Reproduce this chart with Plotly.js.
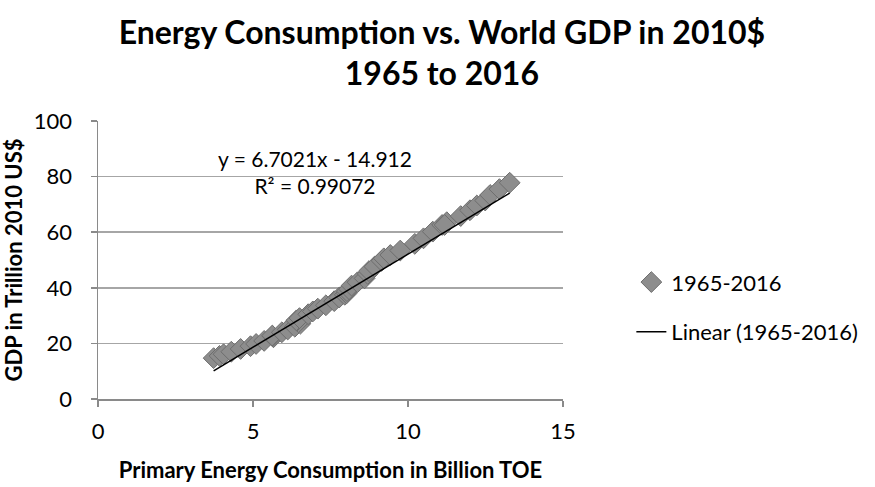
<!DOCTYPE html>
<html>
<head>
<meta charset="utf-8">
<script src="https://cdn.plot.ly/plotly-3.0.1.min.js"></script>
<style>html,body{margin:0;padding:0;background:#fff;}#chart{width:875px;height:487px;}</style>
</head>
<body>
<div id="chart"></div>
<script>
// Years 1965..2016
const years = [1965,1966,1967,1968,1969,1970,1971,1972,1973,1974,1975,1976,1977,1978,1979,1980,1981,1982,1983,1984,1985,1986,1987,1988,1989,1990,1991,1992,1993,1994,1995,1996,1997,1998,1999,2000,2001,2002,2003,2004,2005,2006,2007,2008,2009,2010,2011,2012,2013,2014,2015,2016];
// Primary energy consumption, billion TOE
const energy = [3.73,3.92,4.05,4.30,4.60,4.92,5.10,5.36,5.66,5.64,5.62,5.93,6.12,6.35,6.53,6.47,6.42,6.40,6.50,6.78,6.93,7.09,7.35,7.62,7.78,7.96,8.02,8.03,8.10,8.18,8.37,8.60,8.70,8.74,8.92,9.15,9.22,9.43,9.75,10.22,10.50,10.80,11.10,11.25,11.18,11.70,12.00,12.22,12.49,12.65,12.95,13.28];
// World GDP, trillion 2010 US$
const gdp = [14.7,15.5,16.1,17.0,18.0,19.0,19.8,20.9,22.2,22.6,22.8,24.0,25.0,26.0,27.1,27.6,28.2,28.3,29.1,30.5,31.5,32.5,33.7,35.2,36.5,37.5,38.0,38.8,39.5,40.8,42.0,43.4,45.0,46.0,47.6,49.7,50.6,51.8,53.4,55.8,57.8,60.2,62.6,63.6,62.6,65.8,67.9,69.6,71.4,73.4,75.5,77.8];
// Linear trend reported on the chart
const trendSlope = 6.7021;
const trendIntercept = -14.912;
const trendLabel = "y = 6.7021x - 14.912<br>R² = 0.99072";
const seriesName = "1965-2016";
const trendName = "Linear (1965-2016)";
const xTicks = [0,5,10,15];
const yTicks = [0,20,40,60,80,100];

const xMin = Math.min(...energy), xMax = Math.max(...energy);
const trendX = [xMin, xMax];
const trendY = trendX.map(x => trendSlope * x + trendIntercept);

const FONT = "Lato, 'Open Sans', sans-serif";

const traces = [
  {
    x: energy, y: gdp, text: years, type: 'scatter', mode: 'markers', name: seriesName,
    legendgroup: 'a',
    marker: {symbol: 'diamond', size: 16, color: '#8d8d8d', line: {color: '#6e6e6e', width: 1}}
  },
  {
    x: trendX, y: trendY, type: 'scatter', mode: 'lines', name: trendName,
    legendgroup: 'b',
    line: {color: '#000', width: 1.5}
  }
];

const layout = {
  width: 875, height: 487,
  paper_bgcolor: '#fff', plot_bgcolor: '#fff',
  margin: {l: 98, r: 312, t: 121, b: 88},
  font: {family: FONT, color: '#000', size: 22},
  title: {
    text: '<b>Energy Consumption vs. World GDP in 2010$<br>1965 to 2016</b>',
    font: {family: FONT, size: 32, color: '#000'},
    x: 0.505, xanchor: 'center', y: 0.91, yanchor: 'top'
  },
  xaxis: {
    range: [0, 15], tickvals: xTicks, ticktext: xTicks.map(String),
    showgrid: false, zeroline: false,
    showline: true, linecolor: '#8a8a8a', linewidth: 1.5,
    ticks: 'outside', ticklen: 6, tickcolor: '#8a8a8a', tickwidth: 1.5,
    ticklabelstandoff: 6,
    tickfont: {family: FONT, size: 22, color: '#000'},
    title: {text: '<b>Primary Energy Consumption in Billion TOE</b>', font: {family: FONT, size: 22, color: '#000'}, standoff: 19}
  },
  yaxis: {
    range: [0, 100], tickvals: yTicks, ticktext: yTicks.map(String),
    showgrid: true, gridcolor: '#a6a6a6', gridwidth: 1.5, zeroline: false,
    showline: true, linecolor: '#8a8a8a', linewidth: 1.5,
    ticks: 'outside', ticklen: 6, tickcolor: '#8a8a8a', tickwidth: 1.5,
    ticklabelstandoff: 14,
    tickfont: {family: FONT, size: 22, color: '#000'},
    title: {text: '<b>GDP in Trillion 2010 US$</b>', font: {family: FONT, size: 22, color: '#000'}, standoff: 6}
  },
  showlegend: true,
  legend: {
    x: 1.147, xanchor: 'left', y: 0.33, yanchor: 'middle',
    font: {family: FONT, size: 22, color: '#000'},
    bgcolor: 'rgba(0,0,0,0)', traceorder: 'grouped', tracegroupgap: 18
  },
  annotations: [{
    text: trendLabel, xref: 'x', yref: 'y', x: 7.0, y: 81.5, showarrow: false,
    font: {family: FONT, size: 21, color: '#000'}, align: 'center'
  }]
};

Plotly.newPlot('chart', traces, layout, {displayModeBar: false, staticPlot: true});
</script>
</body>
</html>
